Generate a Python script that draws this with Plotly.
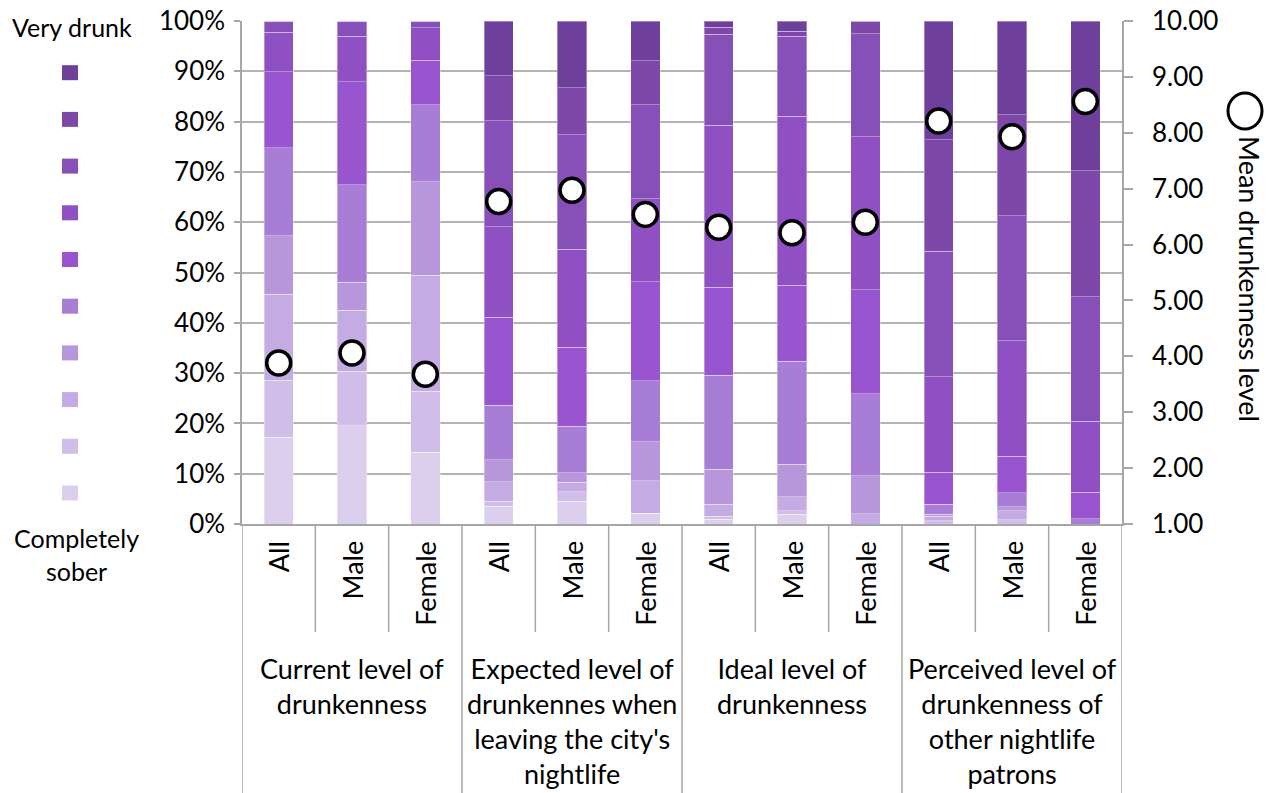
import plotly.graph_objects as go

# ---- data -------------------------------------------------------------
groups = [
    "Current level of<br>drunkenness",
    "Expected level of<br>drunkennes when<br>leaving the city's<br>nightlife",
    "Ideal level of<br>drunkenness",
    "Perceived level of<br>drunkenness of<br>other nightlife<br>patrons",
]
subgroups = ["All", "Male", "Female"]

# share of respondents (%) at each point of the 1-10 scale
# (1 = completely sober ... 10 = very drunk), one value per bar
level_1 = [17.2, 19.5, 14.3, 3.5, 4.5, 2.1, 0.9, 1.9, 0.0, 0.0, 0.0, 0.0]
level_2 = [11.4, 10.9, 12.1, 1.0, 1.9, 0.0, 0.6, 0.7, 0.0, 0.6, 0.8, 0.0]
level_3 = [17.1, 12.1, 23.1, 3.9, 1.9, 6.5, 2.4, 2.8, 2.0, 0.9, 1.8, 0.0]
level_4 = [11.6, 5.6, 18.5, 4.4, 1.9, 7.8, 7.0, 6.5, 7.6, 0.4, 0.8, 0.0]
level_5 = [17.5, 19.3, 15.4, 10.8, 9.2, 12.1, 18.7, 20.5, 16.3, 2.0, 2.8, 1.0]
level_6 = [15.1, 20.5, 8.8, 17.5, 15.7, 19.7, 17.5, 15.1, 20.7, 6.4, 7.3, 5.3]
level_7 = [7.9, 9.1, 6.5, 18.0, 19.5, 16.5, 32.2, 33.6, 30.4, 19.0, 22.9, 14.1]
level_8 = [2.2, 3.0, 1.3, 21.1, 22.8, 18.7, 18.1, 15.9, 20.5, 24.9, 24.9, 24.8]
level_9 = [0.0, 0.0, 0.0, 8.9, 9.3, 8.7, 1.4, 1.0, 2.5, 22.2, 20.1, 25.0]
level_10 = [0.0, 0.0, 0.0, 10.9, 13.3, 7.9, 1.2, 2.0, 0.0, 23.6, 18.6, 29.8]

# mean drunkenness level per bar (right axis)
mean_level = [3.88, 4.06, 3.68, 6.77, 6.97, 6.54, 6.31, 6.21, 6.40, 8.21, 7.93, 8.56]

levels = [level_1, level_2, level_3, level_4, level_5,
          level_6, level_7, level_8, level_9, level_10]
level_colors = ["#dccfee", "#d0bde8", "#c4abe3", "#b896db", "#a87dd5",
                "#9955d0", "#8e50c2", "#874fb8", "#7e48ab", "#6f3f9c"]

# ---- geometry ---------------------------------------------------------
W, H = 1273, 793
ML, MR, MT, MB = 242, 151, 21, 269
PW, PH = W - ML - MR, H - MT - MB
FONT = "Lato"
AXIS_GREY = "#a6a6a6"


def px_x(px):
    return (px - ML) / PW


def px_y(py):
    return (H - MB - py) / PH


n_sub = len(subgroups)
n_bars = len(groups) * n_sub
xpos = list(range(n_bars))

fig = go.Figure()

for k, (vals, col) in enumerate(zip(levels, level_colors), start=1):
    fig.add_trace(go.Bar(
        x=xpos, y=vals, name=f"Level {k}",
        marker=dict(color=col, line=dict(color="rgba(255,255,255,0.35)", width=1)),
        showlegend=False, hoverinfo="skip",
    ))

fig.add_trace(go.Scatter(
    x=xpos, y=mean_level, yaxis="y2", mode="markers",
    name="Mean drunkenness level", showlegend=False,
    marker=dict(symbol="circle", size=24, color="white",
                line=dict(color="black", width=3.5)),
))

# ---- category axis: divider lines and two-level labels -----------------
shapes = []
y_short = px_y(632)
y_long = px_y(H)
for b in range(n_bars + 1):
    xb = b - 0.5
    full = (b % n_sub == 0)
    shapes.append(dict(type="line", xref="x", yref="paper",
                       x0=xb, x1=xb, y0=0, y1=y_long if full else y_short,
                       line=dict(color=AXIS_GREY, width=1.5)))

annotations = []
for i in xpos:
    annotations.append(dict(
        x=i, y=px_y(539), xref="x", yref="paper",
        text=subgroups[i % n_sub], textangle=-90,
        xanchor="center", yanchor="top", showarrow=False,
        font=dict(family=FONT, size=27, color="black"),
    ))
for g, label in enumerate(groups):
    annotations.append(dict(
        x=g * n_sub + (n_sub - 1) / 2, y=px_y(650), xref="x", yref="paper",
        text=label, xanchor="center", yanchor="top", align="center",
        showarrow=False, font=dict(family=FONT, size=27, color="black"),
    ))

# ---- left legend: colour scale from completely sober to very drunk -----
sq_w, sq_h = 16, 15
sq_cx = 70
for k, col in enumerate(level_colors):
    cy = 493 - k * 46.7
    shapes.append(dict(type="rect", xref="paper", yref="paper",
                       x0=px_x(sq_cx - sq_w / 2), x1=px_x(sq_cx + sq_w / 2),
                       y0=px_y(cy + sq_h / 2), y1=px_y(cy - sq_h / 2),
                       fillcolor=col, line=dict(width=0)))
annotations.append(dict(x=px_x(72), y=px_y(27), xref="paper", yref="paper",
                        text="Very drunk", showarrow=False,
                        xanchor="center", yanchor="middle",
                        font=dict(family=FONT, size=25, color="black")))
annotations.append(dict(x=px_x(76), y=px_y(521), xref="paper", yref="paper",
                        text="Completely<br>sober", showarrow=False,
                        xanchor="center", yanchor="top", align="center",
                        font=dict(family=FONT, size=25, color="black")))

# ---- right legend: mean marker and rotated title -----------------------
shapes.append(dict(type="circle", xref="paper", yref="paper",
                   xsizemode="pixel", ysizemode="pixel",
                   xanchor=px_x(1245), yanchor=px_y(111),
                   x0=-17, x1=17, y0=-18, y1=18,
                   fillcolor="white", line=dict(color="black", width=3)))
annotations.append(dict(x=px_x(1250), y=px_y(134), xref="paper", yref="paper",
                        text="Mean drunkenness level", textangle=90,
                        showarrow=False, xanchor="center", yanchor="top",
                        font=dict(family=FONT, size=27, color="black")))

fig.update_layout(
    width=W, height=H,
    margin=dict(l=ML, r=MR, t=MT, b=MB, pad=0, autoexpand=False),
    paper_bgcolor="white", plot_bgcolor="white",
    barmode="stack", bargap=0.6,
    font=dict(family=FONT, size=26, color="black"),
    xaxis=dict(range=[-0.5, n_bars - 0.5], showticklabels=False,
               showgrid=False, zeroline=False, ticks="",
               showline=True, linecolor=AXIS_GREY, linewidth=1.5,
               automargin=False, fixedrange=True),
    yaxis=dict(range=[0, 100], dtick=10, ticksuffix="%",
               showgrid=True, gridcolor="#b3b3b3", gridwidth=1.5,
               zeroline=False, showline=True, linecolor=AXIS_GREY,
               linewidth=1.5, ticks="outside", ticklen=6,
               tickcolor=AXIS_GREY, tickwidth=1.5, ticklabelstandoff=4,
               tickfont=dict(family=FONT, size=26, color="black"),
               automargin=False, fixedrange=True),
    yaxis2=dict(range=[1, 10], dtick=1, tickformat=".2f",
                overlaying="y", side="right", showgrid=False,
                zeroline=False, showline=True, linecolor=AXIS_GREY,
                linewidth=1.5, ticks="outside", ticklen=9,
                tickcolor=AXIS_GREY, tickwidth=1.5, ticklabelstandoff=14,
                tickfont=dict(family=FONT, size=26, color="black"),
                automargin=False, fixedrange=True),
    shapes=shapes,
    annotations=annotations,
    showlegend=False,
)

fig.write_html("out.html")
